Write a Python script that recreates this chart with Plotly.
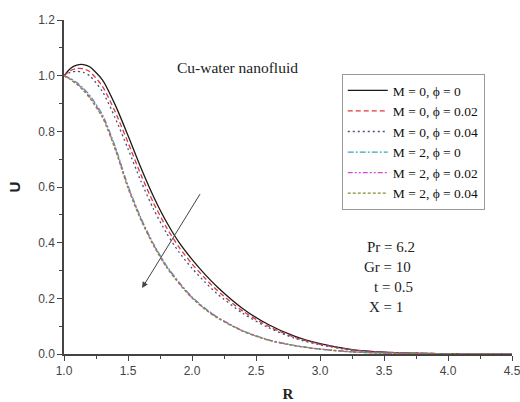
import plotly.graph_objects as go

R = [1.0, 1.05, 1.1, 1.15, 1.2, 1.3, 1.4, 1.5, 1.6, 1.7, 1.8, 1.9, 2.0, 2.1, 2.2, 2.4, 2.6, 2.8, 3.0, 3.25, 3.5, 4.0, 4.5]

U_M0_p0 = [1.0, 1.026, 1.038, 1.04, 1.032, 0.985, 0.895, 0.785, 0.67, 0.565, 0.475, 0.40, 0.34, 0.287, 0.24, 0.162, 0.105, 0.064, 0.037, 0.016, 0.007, 0.001, 0.0]
U_M0_p02 = [1.0, 1.018, 1.026, 1.025, 1.015, 0.962, 0.87, 0.76, 0.645, 0.542, 0.455, 0.383, 0.324, 0.273, 0.227, 0.153, 0.099, 0.06, 0.035, 0.015, 0.0065, 0.001, 0.0]
U_M0_p04 = [1.0, 1.012, 1.016, 1.012, 1.0, 0.943, 0.848, 0.737, 0.622, 0.52, 0.435, 0.365, 0.308, 0.259, 0.215, 0.145, 0.094, 0.057, 0.033, 0.014, 0.006, 0.001, 0.0]
U_M2_p0 = [1.0, 0.99, 0.975, 0.955, 0.93, 0.86, 0.745, 0.605, 0.49, 0.395, 0.318, 0.257, 0.205, 0.165, 0.132, 0.083, 0.051, 0.031, 0.018, 0.008, 0.0035, 0.0006, 0.0]
U_M2_p02 = [1.0, 0.988, 0.972, 0.951, 0.925, 0.855, 0.74, 0.6, 0.486, 0.392, 0.315, 0.255, 0.203, 0.163, 0.131, 0.082, 0.05, 0.03, 0.0175, 0.0078, 0.0034, 0.0006, 0.0]
U_M2_p04 = [1.0, 0.986, 0.969, 0.947, 0.92, 0.85, 0.735, 0.596, 0.482, 0.389, 0.312, 0.252, 0.201, 0.161, 0.129, 0.081, 0.049, 0.03, 0.017, 0.0075, 0.0033, 0.0006, 0.0]

series_names = ["M = 0, \u03d5 = 0", "M = 0, \u03d5 = 0.02", "M = 0, \u03d5 = 0.04",
                "M = 2, \u03d5 = 0", "M = 2, \u03d5 = 0.02", "M = 2, \u03d5 = 0.04"]
series_values = [U_M0_p0, U_M0_p02, U_M0_p04, U_M2_p0, U_M2_p02, U_M2_p04]
colors = ["#1a1a1a", "#e0393a", "#4a4f80", "#3aa6b5", "#d548d5", "#8a8a2a"]
dashes = ["solid", "5px,3px", "2px,3px", "6px,2px,2px,2px", "5px,2px,2px,2px,2px,2px", "3px,2px"]

params = ["Pr = 6.2", "Gr = 10", "t = 0.5", "X = 1"]
param_x = [1.0 + (365 - 64) / 128, 1.0 + (362 - 64) / 128, 1.0 + (372 - 64) / 128, 1.0 + (367 - 64) / 128]
param_y = [0.385, 0.313, 0.241, 0.169]

arrow_tail = (2.07, 0.58)
arrow_head = (1.61, 0.237)

fig = go.Figure()
for name, vals, c, d in zip(series_names, series_values, colors, dashes):
    fig.add_trace(go.Scatter(x=R, y=vals, mode="lines", name=name,
                             line=dict(color=c, width=1.3, dash=d, shape="spline", smoothing=0.7)))

serif = "Liberation Serif, Times New Roman, serif"
sans = "Liberation Sans, Arial, sans-serif"

fig.add_annotation(x=1.0 + (237 - 64) / 128, y=(354 - 68) / 278.3, xref="x", yref="y",
                   text="Cu-water nanofluid", showarrow=False,
                   font=dict(family=serif, size=15.5, color="#222"))
for t, px, py in zip(params, param_x, param_y):
    fig.add_annotation(x=px, y=py, xref="x", yref="y", text=t, showarrow=False,
                       xanchor="left", font=dict(family=serif, size=15, color="#222"))

fig.add_annotation(x=arrow_head[0], y=arrow_head[1], ax=arrow_tail[0], ay=arrow_tail[1],
                   xref="x", yref="y", axref="x", ayref="y", text="", showarrow=True,
                   arrowhead=2, arrowsize=1.2, arrowwidth=1, arrowcolor="#444")

fig.update_layout(
    width=520, height=402,
    margin=dict(l=64, r=8, t=20, b=48, autoexpand=False),
    paper_bgcolor="white", plot_bgcolor="white",
    showlegend=True,
    legend=dict(x=0.62, y=0.838, xanchor="left", yanchor="top",
                bordercolor="#999", borderwidth=1, bgcolor="white",
                font=dict(family=serif, size=13.5, color="#111"),
                tracegroupgap=0, itemwidth=40),
    xaxis=dict(range=[1.0, 4.5], dtick=0.5, tick0=1.0, showgrid=False, zeroline=False,
               showline=True, linecolor="#444", linewidth=1.5, ticks="outside", ticklen=5,
               tickcolor="#444", tickformat=".1f", automargin=False, ticklabeloverflow="allow",
               tickfont=dict(family=sans, size=12, color="#444"),
               minor=dict(dtick=0.25, ticks="outside", ticklen=3, tickcolor="#444", showgrid=False),
               title=dict(text="<b>R</b>", font=dict(family=serif, size=15, color="#222"), standoff=12)),
    yaxis=dict(range=[0.0, 1.2], dtick=0.2, tick0=0, showgrid=False, zeroline=False,
               showline=True, linecolor="#444", linewidth=1.5, ticks="outside", ticklen=5,
               tickcolor="#444", tickformat=".1f", automargin=False,
               tickfont=dict(family=sans, size=12, color="#444"),
               minor=dict(dtick=0.1, ticks="outside", ticklen=3, tickcolor="#444", showgrid=False),
               title=dict(text="<b>U</b>", font=dict(family=sans, size=15, color="#222"), standoff=14)),
)

fig.write_html("out.html")
